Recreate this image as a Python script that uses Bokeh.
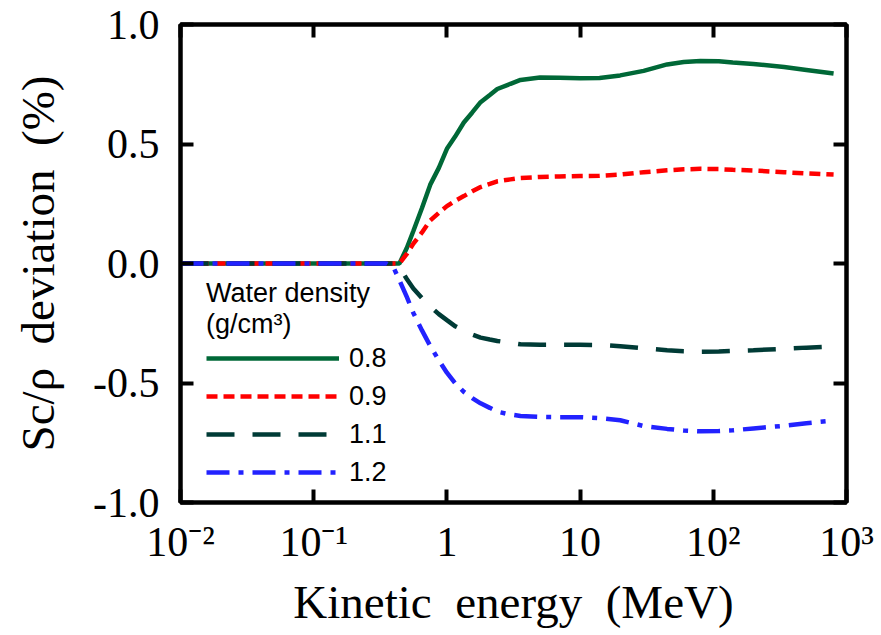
from bokeh.plotting import figure
from bokeh.models import (LogAxis, LinearAxis, FixedTicker, Legend, LegendItem,
                          Range1d, ColumnDataSource)
from bokeh.embed import file_html
from bokeh.resources import INLINE

# ---- data ----
energy = [0.01, 0.1, 0.3, 0.35, 0.40, 0.44, 0.5, 0.56, 0.65, 0.75, 0.87, 1.0,
          1.15, 1.34, 1.55, 1.79, 2.1, 2.39, 3.0, 3.57, 5.0, 7.0, 10, 14, 20,
          30, 45, 60, 80, 110, 140, 200, 340, 500, 800]
dev_08 = [0, 0, 0, 0, 0, 0, 0.065, 0.136, 0.232, 0.33, 0.40, 0.48,
          0.53, 0.59, 0.632, 0.675, 0.705, 0.73, 0.752, 0.768, 0.778, 0.777, 0.775, 0.776, 0.787,
          0.806, 0.833, 0.843, 0.847, 0.846, 0.841, 0.835, 0.822, 0.81, 0.795]
dev_09 = [0, 0, 0, 0, 0, 0, 0.04, 0.083, 0.13, 0.18, 0.212, 0.24,
          0.262, 0.282, 0.302, 0.32, 0.333, 0.344, 0.352, 0.358, 0.362, 0.364, 0.366, 0.367, 0.372,
          0.382, 0.39, 0.394, 0.396, 0.395, 0.392, 0.389, 0.382, 0.377, 0.372]
dev_11 = [0, 0, 0, 0, 0, -0.015, -0.065, -0.105, -0.145, -0.18, -0.212, -0.237,
          -0.262, -0.28, -0.297, -0.31, -0.318, -0.324, -0.332, -0.338, -0.34, -0.34, -0.34, -0.341, -0.346,
          -0.355, -0.363, -0.367, -0.369, -0.368, -0.366, -0.363, -0.357, -0.352, -0.347]
dev_12 = [0, 0, 0, 0, -0.02, -0.07, -0.14, -0.207, -0.28, -0.345, -0.405, -0.457,
          -0.5, -0.537, -0.563, -0.585, -0.604, -0.62, -0.632, -0.638, -0.642, -0.643, -0.643, -0.647, -0.656,
          -0.68, -0.692, -0.699, -0.702, -0.701, -0.698, -0.69, -0.679, -0.668, -0.657]

series_labels = ["0.8", "0.9", "1.1", "1.2"]
x_ticks = [0.01, 0.1, 1, 10, 100, 1000]
x_tick_labels = ["10\u207b\u00b2", "10\u207b\u00b9", "1", "10", "10\u00b2", "10\u00b3"]
y_ticks = [-1.0, -0.5, 0.0, 0.5, 1.0]
y_tick_labels = ["-1.0", "-0.5", "0.0", "0.5", "1.0"]

colors = ["#006837", "#ff0000", "#003b36", "#2222ff"]
dashes = ["solid", "11 6", "28 18", "23 9 5 9"]

SERIF = "Liberation Serif"
SANS = "Liberation Sans"

p = figure(frame_width=666, frame_height=478, x_axis_type="log",
           x_range=Range1d(0.01, 1000), y_range=Range1d(-1, 1),
           output_backend="svg", toolbar_location=None,
           min_border_left=180, min_border_right=33,
           min_border_top=24, min_border_bottom=130)
p.grid.visible = False
p.outline_line_color = "black"
p.outline_line_width = 4
p.background_fill_color = "white"

src = ColumnDataSource(dict(x=energy, a=dev_08, b=dev_09, c=dev_11, d=dev_12))
renderers = []
for col, c, d in zip(["a", "b", "c", "d"], colors, dashes):
    r = p.line("x", col, source=src, line_color=c, line_width=4.5, line_dash=d)
    renderers.append(r)

def style_axis(ax, labels=True):
    ax.major_tick_in = 13
    ax.major_tick_out = 0
    ax.minor_tick_in = 0
    ax.minor_tick_out = 0
    ax.minor_tick_line_color = None
    ax.major_tick_line_width = 4
    ax.major_tick_line_color = "black"
    ax.axis_line_color = "black"
    ax.axis_line_width = 4
    if labels:
        ax.major_label_text_font = SERIF
        ax.major_label_text_font_size = "42px"
        ax.major_label_text_color = "black"
        ax.major_label_standoff = 20
        ax.axis_label_text_font = SERIF
        ax.axis_label_text_font_size = "47px"
        ax.axis_label_text_font_style = "normal"
        ax.axis_label_text_color = "black"
    else:
        ax.major_label_text_font_size = "1px"
        ax.major_label_text_color = None
        ax.major_label_standoff = 0
        ax.axis_label_standoff = 0

xax = p.xaxis[0]
xax.ticker = FixedTicker(ticks=x_ticks, minor_ticks=[])
xax.major_label_overrides = {t: l for t, l in zip(x_ticks, x_tick_labels)}
xax.axis_label = "Kinetic\u00a0 energy\u00a0 (MeV)"
style_axis(xax)
xax.major_label_standoff = 16
xax.axis_label_standoff = 8

yax = p.yaxis[0]
yax.ticker = FixedTicker(ticks=y_ticks, minor_ticks=[])
yax.major_label_overrides = {t: l for t, l in zip(y_ticks, y_tick_labels)}
yax.axis_label = "Sc/\u03c1\u00a0 deviation\u00a0 (%)"
style_axis(yax)
yax.major_label_standoff = 21
yax.axis_label_standoff = 26

top = LogAxis(ticker=FixedTicker(ticks=x_ticks, minor_ticks=[]))
style_axis(top, labels=False)
p.add_layout(top, "above")
right = LinearAxis(ticker=FixedTicker(ticks=y_ticks, minor_ticks=[]))
style_axis(right, labels=False)
p.add_layout(right, "right")

items = [LegendItem(label=l, renderers=[r]) for l, r in zip(series_labels, renderers)]
legend = Legend(items=items, location=(26, 14),
                title="Water density\n(g/cm\u00b3)",
                title_text_font=SANS, title_text_font_size="27px",
                title_text_font_style="normal", title_text_color="black",
                title_standoff=2,
                label_text_font=SANS, label_text_font_size="27px",
                label_text_color="black",
                label_standoff=10, glyph_width=133, glyph_height=32,
                label_height=32, spacing=6, padding=0, margin=0,
                background_fill_alpha=0, border_line_color=None)
p.add_layout(legend, "center")

open("out.html", "w").write(file_html(p, INLINE))
